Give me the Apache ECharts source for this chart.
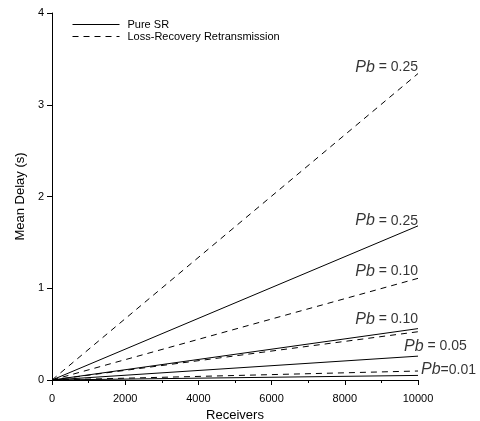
<!DOCTYPE html>
<html lang="en">
<head>
	<meta charset="UTF-8">
	<title>Mean Delay vs Receivers</title>
	<style>
		body, div {
			margin: 0;
			padding: 0;
		}
		#main {
			width: 480px;
			height: 421px;
			background: #fff;
		}
	</style>
</head>
<body>
	<div id="main"></div>
	<script src="https://cdn.jsdelivr.net/npm/echarts@6/dist/echarts.min.js"></script>
	<script>
    // receivers range (x)
    var receivers = [0, 10000];
    // end values of each line at 10000 receivers
    var pureSR = [1.68, 0.56, 0.26, 0.05];
    var lossRec = [3.34, 1.108, 0.526, 0.098];
    // Pb labels and the line end they sit on
    var labelTexts = ['0.25', '0.25', '0.10', '0.10', '0.05', '0.01'];
    var labelValues = [3.34, 1.68, 1.108, 0.56, 0.26, 0.098];

    var font = 'Liberation Sans, Arial, sans-serif';
    var myEcharts = echarts.init(document.getElementById('main'));

    function mkLine(name, v, dashed) {
        return {
            name: name,
            type: 'line',
            symbol: 'none',
            silent: true,
            animation: false,
            itemStyle: {color: '#000'},
            lineStyle: {
                color: '#000',
                width: 1,
                type: dashed ? [6, 5] : 'solid'
            },
            data: [[receivers[0], 0], [receivers[1], v]]
        };
    }

    var series = [];
    pureSR.forEach(function (v) { series.push(mkLine('Pure SR', v, false)); });
    lossRec.forEach(function (v) { series.push(mkLine('Loss-Recovery Retransmission', v, true)); });

    // label placement tweaks (pixels)
    var labelPos = [
        {align: 'right', verticalAlign: 'bottom', offset: [0, 2]},
        {align: 'right', verticalAlign: 'bottom', offset: [0, 3]},
        {align: 'right', verticalAlign: 'bottom', offset: [0, 1]},
        {align: 'right', verticalAlign: 'bottom', offset: [0, -1]},
        {align: 'left', verticalAlign: 'middle', offset: [-14, -10]},
        {align: 'left', verticalAlign: 'middle', offset: [3, -1]}
    ];

    series.push({
        type: 'scatter',
        symbolSize: 1,
        silent: true,
        animation: false,
        itemStyle: {color: 'rgba(0,0,0,0)'},
        data: labelValues.map(function (v, i) {
            var p = labelPos[i];
            var sp = i === 5 ? '' : ' ';
            return {
                value: [receivers[1], v],
                label: {
                    show: true,
                    position: 'inside',
                    align: p.align,
                    verticalAlign: p.verticalAlign,
                    offset: p.offset,
                    formatter: '{i|Pb}' + sp + '=' + sp + labelTexts[i],
                    color: '#000',
                    fontFamily: font,
                    fontSize: 14,
                    rich: {
                        i: {fontStyle: 'italic', fontFamily: font, fontSize: 16, color: '#000'}
                    }
                }
            };
        })
    });

    var option = {
        backgroundColor: '#fff',
        animation: false,
        grid: {left: 52, right: 62, top: 13, bottom: 41, outerBoundsMode: 'none'},
        legend: {
            orient: 'vertical',
            left: 67,
            top: 14,
            itemWidth: 47,
            itemHeight: 8,
            itemGap: 1,
            itemStyle: {opacity: 0},
            lineStyle: {width: 1},
            data: ['Pure SR', 'Loss-Recovery Retransmission'],
            textStyle: {fontFamily: font, fontSize: 11, color: '#000', padding: [0, 0, 0, 3]},
            inactiveColor: '#000'
        },
        xAxis: {
            type: 'value',
            min: 0,
            max: 10000,
            interval: 2000,
            name: 'Receivers',
            nameLocation: 'middle',
            nameGap: 25,
            nameTextStyle: {fontFamily: font, fontSize: 13, color: '#000'},
            axisLine: {lineStyle: {color: '#000', width: 1}},
            axisTick: {show: true, length: 5, lineStyle: {color: '#000'}},
            minorTick: {show: true, splitNumber: 2, length: 3, lineStyle: {color: '#000'}},
            splitLine: {show: false},
            axisLabel: {fontFamily: font, fontSize: 11, color: '#000', margin: 13,
                formatter: function (v) { return String(v); }}
        },
        yAxis: {
            type: 'value',
            min: 0,
            max: 4,
            interval: 1,
            name: 'Mean Delay (s)',
            nameLocation: 'middle',
            nameGap: 25,
            nameTextStyle: {fontFamily: font, fontSize: 13, color: '#000'},
            axisLine: {show: true, lineStyle: {color: '#000', width: 1}},
            axisTick: {show: true, length: 5, lineStyle: {color: '#000'}},
            splitLine: {show: false},
            axisLabel: {fontFamily: font, fontSize: 11, color: '#000', margin: 8}
        },
        series: series
    };

    myEcharts.setOption(option);
	</script>
</body>
</html>
